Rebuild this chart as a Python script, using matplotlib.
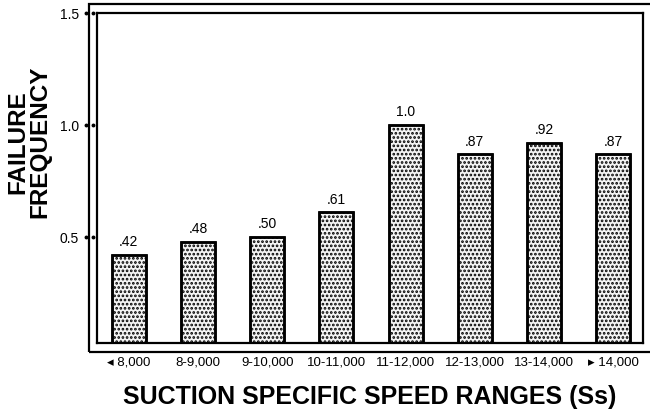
import matplotlib
matplotlib.use("Agg")
import matplotlib.pyplot as plt
import matplotlib.transforms as mtransforms
from matplotlib.patches import Rectangle

# data
ranges = ["\u25c2 8,000", "8-9,000", "9-10,000", "10-11,000",
          "11-12,000", "12-13,000", "13-14,000", "\u25b8 14,000"]
failure_freq = [0.42, 0.48, 0.50, 0.61, 1.0, 0.87, 0.92, 0.87]
value_labels = [".42", ".48", ".50", ".61", "1.0", ".87", ".92", ".87"]
yticks = [0.5, 1.0, 1.5]
ytick_labels = ["0.5", "1.0", "1.5"]

plt.rcParams['font.family'] = ['Liberation Sans', 'DejaVu Sans']
plt.rcParams['hatch.linewidth'] = 1.3
plt.rcParams['hatch.color'] = '#6e6e6e'

fig = plt.figure(figsize=(6.5, 4.13), dpi=100)
ax = fig.add_axes([0.1492, 0.1695, 0.840, 0.799])

x = list(range(len(ranges)))
ax.bar(x, failure_freq, width=0.49, color='#f4f4f4',
       edgecolor='black', linewidth=1.8, hatch='....')
ax.bar(x, failure_freq, width=0.49, color='none', edgecolor='black', linewidth=1.8)

for xi, v, lab in zip(x, failure_freq, value_labels):
    ax.text(xi, v + 0.025, lab, ha='center', va='bottom', fontsize=10)

ax.set_xlim(-0.46, 7.43)
ax.set_ylim(0.027, 1.5)
ax.set_xticks(x)
ax.set_xticklabels(ranges, fontsize=9.5)
ax.tick_params(axis='x', length=0, pad=10)
ax.set_yticks(yticks)
ax.set_yticklabels(ytick_labels, fontsize=10)
ax.tick_params(axis='y', length=0, pad=13)
for s in ax.spines.values():
    s.set_linewidth(1.6)

# dotted tick marks beside the frame
trans = mtransforms.blended_transform_factory(ax.transAxes, ax.transData)
for t in yticks:
    ax.plot([-0.0205, -0.0075], [t, t], linestyle='none', marker='o',
            markersize=1.8, color='black', transform=trans, clip_on=False)

# outer frame
fig.add_artist(Rectangle((89 / 650, 1 - 352 / 413), 0.9, (352 - 4) / 413,
                         transform=fig.transFigure, fill=False,
                         edgecolor='black', linewidth=1.6))

fig.text(0.045, 0.656, "FAILURE\nFREQUENCY", rotation=90, ha='center',
         va='center', fontsize=17.5, fontweight='bold', linespacing=0.95)
fig.text(0.569, 0.039, "SUCTION SPECIFIC SPEED RANGES (Ss)", ha='center',
         va='center', fontsize=18, fontweight='bold')

fig.savefig("out.png", dpi=100)
